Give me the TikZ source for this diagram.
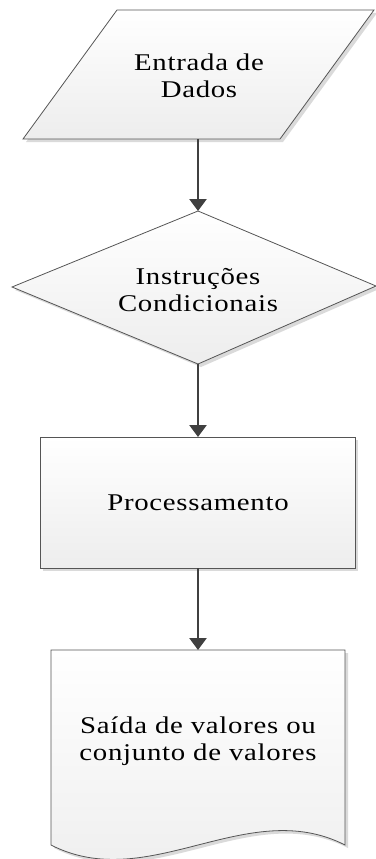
\documentclass[tikz,border=0pt]{standalone}
\usepackage{fontspec}
\setmainfont{Liberation Serif}
\newfontfamily\lblfont[FakeStretch=1.2, LetterSpace=3]{Liberation Serif}
\usetikzlibrary{arrows.meta}

\definecolor{edgegray}{HTML}{555555}
\definecolor{arrowgray}{HTML}{404040}
\definecolor{fillgray}{HTML}{EDEDED}
\definecolor{shadowgray}{HTML}{DADADA}

\tikzset{
  shapebox/.style={draw=edgegray, line width=0.8pt, top color=white, bottom color=fillgray},
  shadowfill/.style={fill=shadowgray, draw=none},
  flowarrow/.style={draw=arrowgray, line width=2.6pt, -{Triangle[width=17pt,length=12pt]}},
  lbl/.style={font=\lblfont\fontsize{24}{27}\selectfont, align=center, inner sep=0pt, text=black}
}

\begin{document}
\begin{tikzpicture}[x=1pt,y=-1pt]
\useasboundingbox (0,0) rectangle (375,859);

% data input (parallelogram)
\fill[shadowfill, shift={(3,3)}] (117,10) -- (374,10) -- (280,139) -- (23,139) -- cycle;
\path[shapebox] (117,10) -- (374,10) -- (280,139) -- (23,139) -- cycle;
\node[lbl] (inTxt) at (199,76) {Entrada de\\Dados};
\coordinate (inB) at (198,139);

% decision (diamond)
\fill[shadowfill, shift={(3,3)}] (198,211) -- (376,286) -- (198,364) -- (12,287) -- cycle;
\path[shapebox] (198,211) -- (376,286) -- (198,364) -- (12,287) -- cycle;
\node[lbl] (decTxt) at (198,290) {Instruções\\Condicionais};
\coordinate (decT) at (198,211);
\coordinate (decB) at (198,364);

% process (rectangle)
\fill[shadowfill, shift={(3,3)}] (40,437) rectangle (355,568);
\path[shapebox] (40,437) rectangle (355,568);
\node[lbl] (procTxt) at (198,503) {Processamento};
\coordinate (procT) at (198,437);
\coordinate (procB) at (198,568);

% output (document with wavy bottom)
\fill[shadowfill, shift={(3,3)}] (51,650) -- (345,650) -- (345,845)
  .. controls (247,795) and (149,895) .. (51,845) -- cycle;
\path[shapebox] (51,650) -- (345,650) -- (345,845)
  .. controls (247,795) and (149,895) .. (51,845) -- cycle;
\node[lbl] (outTxt) at (198,741) {Saída de valores ou\\conjunto de valores};
\coordinate (outT) at (198,650);

% connectors
\draw[flowarrow] (inB) -- (decT);
\draw[flowarrow] (decB) -- (procT);
\draw[flowarrow] (procB) -- (outT);
\end{tikzpicture}
\end{document}
